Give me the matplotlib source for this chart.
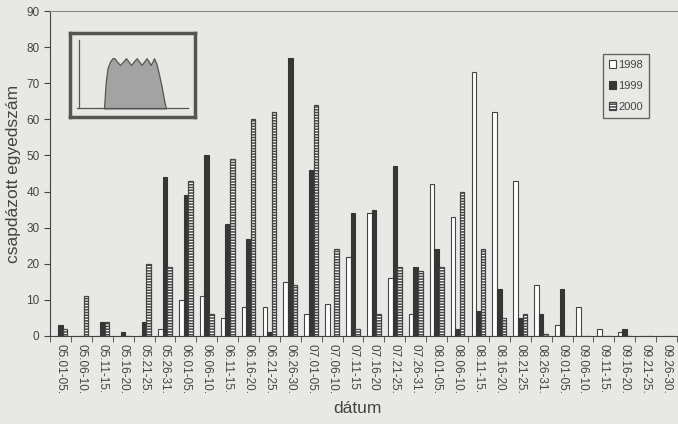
import numpy as np
import matplotlib
matplotlib.use('Agg')
import matplotlib.pyplot as plt

##  data
datumok = ['05.01-05.', '05.06-10.', '05.11-15.', '05.16-20.', '05.21-25.', '05.26-31.',
           '06.01-05.', '06.06-10.', '06.11-15.', '06.16-20.', '06.21-25.', '06.26-30.',
           '07.01-05.', '07.06-10.', '07.11-15', '07.16-20', '07.21-25.', '07.26-31.',
           '08.01-05.', '08.06-10.', '08.11-15.', '08.16-20.', '08.21-25.', '08.26-31.',
           '09.01-05.', '09.06-10.', '09.11-15.', '09.16-20.', '09.21-25.', '09.26-30.']
ev1998 = [0, 0, 0, 0, 0, 2, 10, 11, 5, 8, 8, 15, 6, 9, 22, 34, 16, 6,
          42, 33, 73, 62, 43, 14, 3, 8, 2, 1, 0, 0]
ev1999 = [3, 0, 4, 1, 4, 44, 39, 50, 31, 27, 1, 77, 46, 0, 34, 35, 47, 19,
          24, 2, 7, 13, 5, 6, 13, 0, 0, 2, 0, 0]
ev2000 = [2, 11, 4, 0, 20, 19, 43, 6, 49, 60, 62, 14, 64, 24, 2, 6, 19, 18,
          19, 40, 24, 5, 6, 0.5, 0, 0, 0, 0, 0, 0]

# inset sketch (flight period curve), normalised units
inset_x = [0.272, 0.285, 0.30, 0.32, 0.34, 0.355, 0.375, 0.4, 0.425, 0.448, 0.468, 0.488,
           0.51, 0.533, 0.553, 0.573, 0.593, 0.613, 0.63, 0.645, 0.66, 0.672,
           0.69, 0.71, 0.735, 0.755, 0.768]
inset_y = [0.103, 0.40, 0.58, 0.66, 0.70, 0.70, 0.66, 0.62, 0.66, 0.70, 0.66, 0.62,
           0.66, 0.70, 0.66, 0.62, 0.66, 0.70, 0.66, 0.62, 0.66, 0.70,
           0.64, 0.52, 0.35, 0.18, 0.103]

bg = '#e8e8e5'
ink = '#444444'
plt.rcParams['font.family'] = ['Liberation Sans', 'DejaVu Sans']
plt.rcParams['hatch.linewidth'] = 1.1

fig = plt.figure(figsize=(6.78, 4.24), dpi=100, facecolor=bg)
ax = fig.add_axes([50/678, 1-336/424, 627/678, 325/424])
ax.set_facecolor(bg)

x = np.arange(len(datumok))
w = 0.22
ax.bar(x - w, ev1998, w, color='white', edgecolor=ink, linewidth=0.8, label='1998')
ax.bar(x, ev1999, w, color='#363636', edgecolor='#363636', linewidth=0.8, label='1999')
ax.bar(x + w, ev2000, w, color='white', edgecolor=ink, hatch='------', linewidth=0.9, label='2000')

ax.set_xlim(-0.5, len(datumok) - 0.5)
ax.set_ylim(0, 90)
ax.set_yticks(range(0, 91, 10))
ax.set_xticks(x)
ax.set_xticklabels(datumok, rotation=-90, fontsize=8.5, color=ink)
ax.set_xticks(np.arange(len(datumok) + 1) - 0.5, minor=True)
ax.tick_params(axis='x', which='major', length=0, pad=6)
ax.tick_params(axis='x', which='minor', length=4, direction='out', color=ink)
ax.tick_params(axis='y', length=4, direction='out', color=ink, labelsize=8.5, labelcolor=ink)

for s in ['left', 'bottom']:
    ax.spines[s].set_color(ink)
ax.spines['top'].set_color('#8a8a8a')
ax.spines['right'].set_visible(False)

ax.set_ylabel('csapdázott egyedszám', fontsize=12.5, color=ink, labelpad=4)
ax.set_xlabel('dátum', fontsize=12.5, color=ink)
ax.xaxis.set_label_coords(0.49, -0.2)

leg = ax.legend(loc='upper left', bbox_to_anchor=(0.882, 0.867), fontsize=8,
                frameon=True, fancybox=False, edgecolor=ink, facecolor=bg,
                handlelength=0.7, handleheight=0.7, handletextpad=0.2,
                labelspacing=1.0, borderpad=0.5, borderaxespad=0)
for t in leg.get_texts():
    t.set_color(ink)

##  inset
ins = fig.add_axes([70/678, 1-117/424, 125/678, 84/424])
ins.set_facecolor(bg)
ins.set_xlim(0, 1)
ins.set_ylim(0, 1)
ins.set_xticks([])
ins.set_yticks([])
for s in ins.spines.values():
    s.set_linewidth(2.5)
    s.set_color('#555555')
ins.fill_between(inset_x, 0.103, inset_y, color='#a3a3a3', edgecolor='#555555', linewidth=0.9)
ins.plot([0.072, 0.072], [0.107, 0.917], color='#555555', linewidth=0.9)
ins.plot([0.056, 0.944], [0.107, 0.107], color='#555555', linewidth=0.9)

plt.savefig('out.png', dpi=100, facecolor=bg)
